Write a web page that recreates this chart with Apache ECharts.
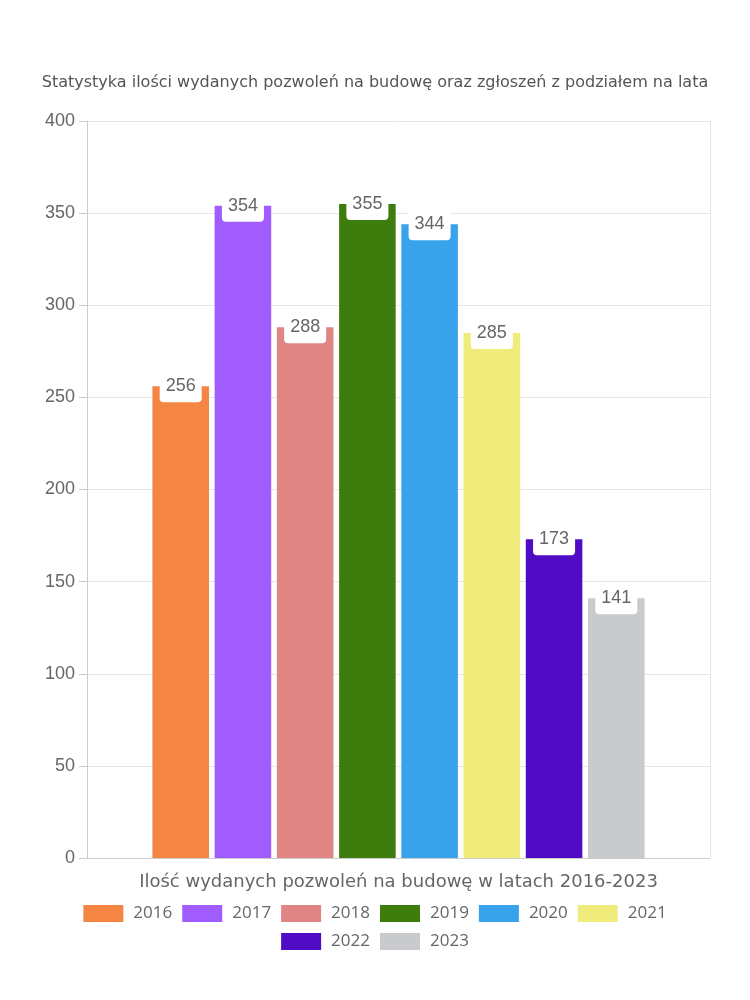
<!DOCTYPE html>
<html><head><meta charset="utf-8">
<script src="https://cdn.jsdelivr.net/npm/echarts@6/dist/echarts.min.js"></script>
<style>html,body{margin:0;padding:0;background:#fff}#c{width:750px;height:1000px}</style>
</head><body><div id="c"></div>
<script>
const years = ['2016','2017','2018','2019','2020','2021','2022','2023'];
const values = [256, 354, 288, 355, 344, 285, 173, 141];
const colors = ['#f58542','#a05cff','#e08484','#3e7d0d','#38a2ea','#f0ec7c','#500bc4','#c9cacd'];
const yTicks = {min: 0, max: 400, interval: 50};
const titleText = 'Statystyka ilości wydanych pozwoleń na budowę oraz zgłoszeń z podziałem na lata';
const xName = 'Ilość wydanych pozwoleń na budowę w latach 2016-2023';
const FONT = 'DejaVu Sans';

const legendStyle = {
  left: 'center', itemWidth: 40, itemHeight: 17, itemGap: 10,
  icon: 'rect', textStyle: {fontFamily: 'Open Sans', fontSize: 17, color: '#666', padding: [0, 0, 0, 5]}
};

const chart = echarts.init(document.getElementById('c'));
chart.setOption({
  animation: false,
  textStyle: {fontFamily: FONT},
  title: {text: titleText, left: 'center', top: 70, textStyle: {fontFamily: FONT, fontSize: 16, fontWeight: 'normal', color: '#555'}},
  grid: {left: 87, right: 40, top: 121, bottom: 142, containLabel: false},
  legend: [
    Object.assign({top: 900, data: years.slice(0, 6)}, legendStyle),
    Object.assign({top: 928, data: years.slice(6)}, legendStyle)
  ],
  xAxis: {
    type: 'category', data: [''],
    name: xName, nameLocation: 'middle', nameGap: 15,
    nameTextStyle: {fontFamily: FONT, fontSize: 18, color: '#666'},
    axisLine: {lineStyle: {color: '#ccc'}},
    axisTick: {show: false}, axisLabel: {show: false},
    splitLine: {show: true, lineStyle: {color: '#e6e6e6'}}
  },
  yAxis: {
    type: 'value', min: yTicks.min, max: yTicks.max, interval: yTicks.interval,
    axisLine: {show: true, lineStyle: {color: '#ccc'}},
    axisTick: {show: true, length: 8, lineStyle: {color: '#ccc'}},
    axisLabel: {fontFamily: 'Liberation Sans', fontSize: 18, color: '#666', margin: 12},
    splitLine: {lineStyle: {color: '#e6e6e6'}}
  },
  series: years.map((y, i) => ({
    name: y, type: 'bar', data: [values[i]],
    barGap: '10%', barCategoryGap: '21%',
    itemStyle: {color: colors[i]},
    label: {
      show: true, position: 'insideTop', distance: 0, offset: [0, -12],
      fontFamily: 'Liberation Sans', fontSize: 18, lineHeight: 20, color: '#666',
      backgroundColor: '#fff', padding: [2, 6, 6, 6], borderRadius: [0, 0, 4, 4]
    }
  }))
});
</script></body></html>
